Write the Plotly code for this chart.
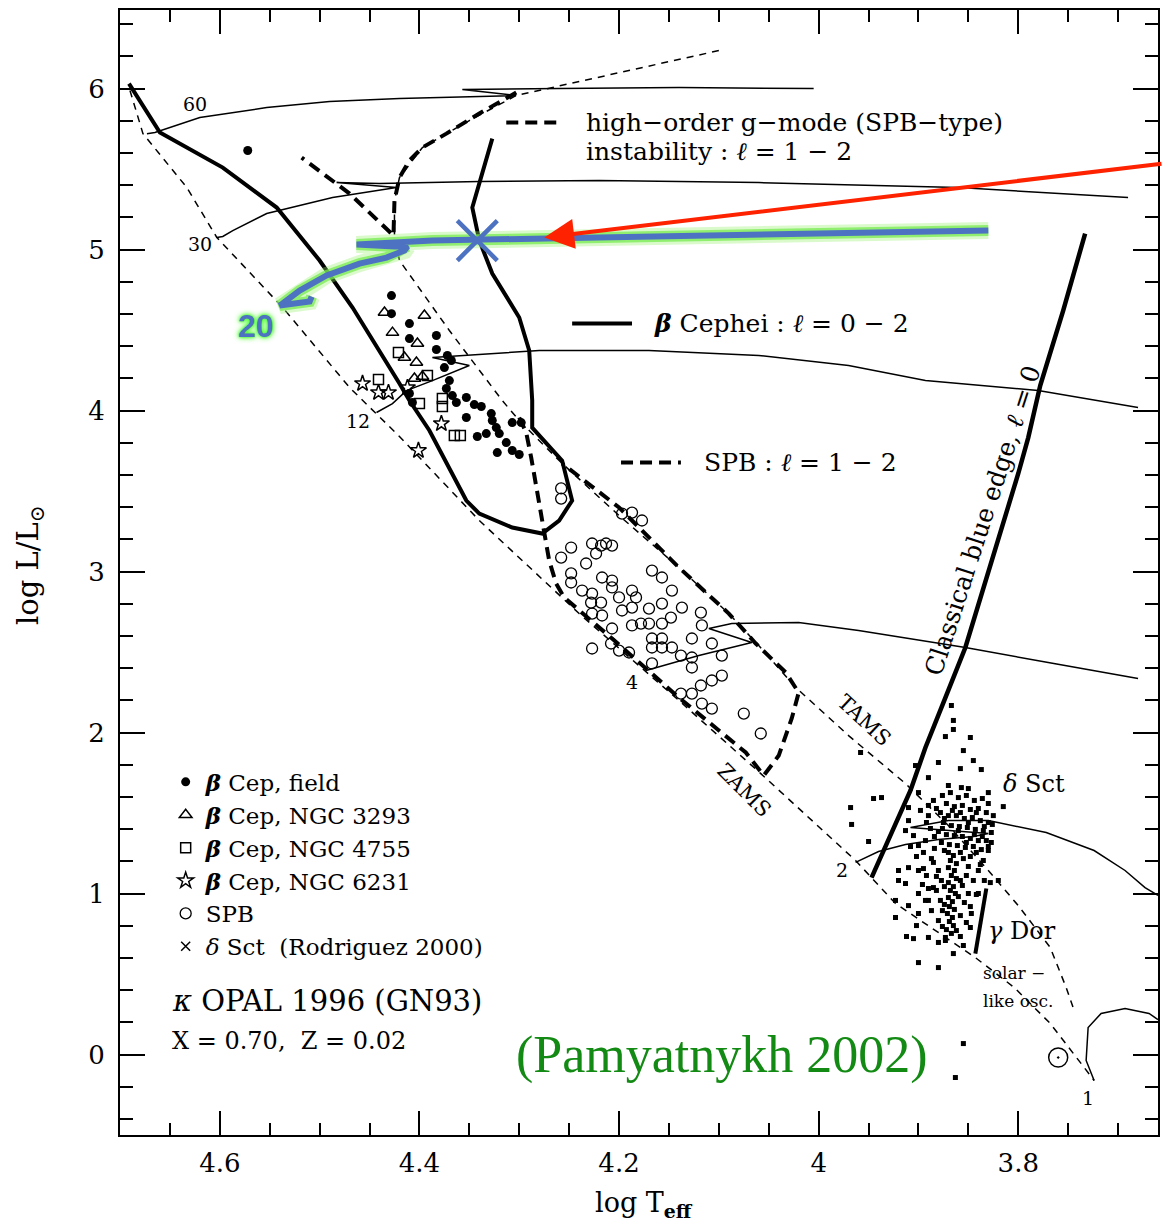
import plotly.graph_objects as go

# ---------------- model lines (log Teff, log L/Lsun) ----------------
ZAMS_T = [4.690, 4.677, 4.633, 4.603, 4.537, 4.470, 4.420, 4.340, 4.240, 4.140, 4.058, 3.963, 3.923, 3.843, 3.804, 3.768, 3.724]
ZAMS_L = [5.988, 5.720, 5.385, 5.075, 4.640, 4.143, 3.839, 3.317, 2.739, 2.199, 1.745, 1.205, 0.938, 0.602, 0.416, 0.193, -0.161]

TAMS_T = [4.100, 4.267, 4.303, 4.350, 4.397, 4.420, 4.425, 4.425, 4.420, 4.370, 4.317, 4.300, 4.257, 4.200,
          4.140, 4.090, 4.060, 4.023, 3.970, 3.913, 3.870, 3.830, 3.800, 3.768, 3.752, 3.744]
TAMS_L = [6.236, 6.006, 5.957, 5.801, 5.634, 5.447, 5.304, 5.087, 4.932, 4.497, 4.062, 3.938, 3.671, 3.348,
          3.025, 2.739, 2.540, 2.280, 1.981, 1.683, 1.422, 1.143, 0.925, 0.665, 0.416, 0.273]

# evolutionary tracks, labelled by mass
M60_T = [4.673, 4.665, 4.620, 4.553, 4.490, 4.420, 4.303, 4.357, 4.260, 4.140, 4.005]
M60_L = [5.720, 5.727, 5.820, 5.882, 5.919, 5.938, 5.957, 5.994, 6.000, 6.006, 6.000]
M30_T = [4.603, 4.597, 4.587, 4.553, 4.487, 4.423, 4.483, 4.440, 4.340, 4.220, 4.060, 3.860, 3.690]
M30_L = [5.075, 5.081, 5.118, 5.224, 5.323, 5.385, 5.416, 5.410, 5.422, 5.429, 5.416, 5.385, 5.323]
M12_T = [4.443, 4.427, 4.413, 4.387, 4.350, 4.387, 4.280, 4.170, 4.060, 3.970, 3.893, 3.780, 3.680]
M12_L = [3.988, 4.043, 4.124, 4.186, 4.280, 4.329, 4.373, 4.373, 4.342, 4.280, 4.186, 4.124, 4.019]
M4_T = [4.173, 4.120, 4.067, 4.110, 4.087, 4.020, 3.960, 3.853, 3.770, 3.680]
M4_L = [2.385, 2.478, 2.559, 2.646, 2.677, 2.683, 2.634, 2.528, 2.435, 2.335]
M2_T = [3.963, 3.940, 3.913, 3.880, 3.845, 3.830, 3.908, 3.870, 3.830, 3.772, 3.724, 3.693, 3.673, 3.660]
M2_L = [1.193, 1.261, 1.304, 1.335, 1.354, 1.373, 1.410, 1.453, 1.453, 1.379, 1.267, 1.143, 1.037, 0.988]
M1_T = [3.724, 3.732, 3.730, 3.717, 3.693, 3.669, 3.660]
M1_L = [-0.161, -0.037, 0.168, 0.255, 0.286, 0.255, 0.217]

# instability domains
BCEP_T = [4.691, 4.660, 4.597, 4.543, 4.500, 4.467, 4.420, 4.410, 4.390, 4.373, 4.353, 4.340, 4.307,
          4.277, 4.260, 4.247, 4.257, 4.287, 4.287, 4.290, 4.300, 4.327, 4.340, 4.347, 4.327]
BCEP_L = [6.031, 5.727, 5.509, 5.261, 4.932, 4.640, 4.168, 4.062, 3.876, 3.671, 3.441, 3.360, 3.273,
          3.236, 3.317, 3.441, 3.689, 3.894, 4.062, 4.373, 4.578, 4.851, 5.056, 5.261, 5.689]
GMODE_T = [4.303, 4.340, 4.373, 4.397, 4.410, 4.420, 4.425, 4.426, 4.470, 4.518]
GMODE_L = [5.975, 5.845, 5.720, 5.634, 5.553, 5.447, 5.304, 5.087, 5.348, 5.571]
SPB_T = [4.300, 4.293, 4.288, 4.284, 4.280, 4.275, 4.270, 4.263, 4.255, 4.207, 4.140, 4.073, 4.055,
         4.040, 4.027, 4.020, 4.033, 4.063, 4.090, 4.140, 4.200, 4.257]
SPB_L = [3.957, 3.863, 3.708, 3.565, 3.422, 3.236, 3.068, 2.925, 2.839, 2.584, 2.217, 1.876, 1.733,
         1.857, 2.087, 2.248, 2.373, 2.553, 2.739, 3.025, 3.398, 3.671]
BLUE_EDGE_T = [3.733, 3.755, 3.778, 3.790, 3.800, 3.827, 3.853, 3.873, 3.893, 3.908, 3.930, 3.947]
BLUE_EDGE_L = [5.099, 4.621, 4.155, 3.832, 3.609, 3.050, 2.528, 2.217, 1.907, 1.640, 1.329, 1.099]
GDOR_T = [3.832, 3.843]
GDOR_L = [1.031, 0.627]

# ---------------- observed stars ----------------
FIELD_T = [4.572, 4.428, 4.428, 4.410, 4.383, 4.410, 4.383, 4.372, 4.368, 4.375, 4.370, 4.373, 4.367, 4.353,
           4.363, 4.345, 4.338, 4.353, 4.328, 4.327, 4.323, 4.320, 4.333, 4.342, 4.307, 4.298, 4.313, 4.322,
           4.307, 4.300, 4.410, 4.407]
FIELD_L = [5.615, 4.714, 4.602, 4.540, 4.466, 4.447, 4.379, 4.342, 4.311, 4.267, 4.186, 4.137, 4.093, 4.081,
           4.050, 4.037, 4.025, 3.957, 3.981, 3.938, 3.894, 3.857, 3.857, 3.839, 3.925, 3.925, 3.801, 3.739,
           3.752, 3.727, 4.106, 4.050]
N3293_T = [4.435, 4.395, 4.427, 4.402, 4.415, 4.403, 4.405, 4.397]
N3293_L = [4.609, 4.590, 4.484, 4.416, 4.329, 4.298, 4.199, 4.211]
N4755_T = [4.421, 4.441, 4.392, 4.400, 4.377, 4.377, 4.365, 4.359]
N4755_L = [4.360, 4.193, 4.217, 4.043, 4.075, 4.025, 3.845, 3.845]
N6231_T = [4.457, 4.441, 4.431, 4.412, 4.378, 4.401]
N6231_L = [4.168, 4.112, 4.112, 4.143, 3.919, 3.752]
SPB_STAR_T = [4.258, 4.258, 4.197, 4.187, 4.177, 4.248, 4.258, 4.227, 4.218, 4.213, 4.207, 4.223, 4.233, 4.248,
              4.248, 4.217, 4.207, 4.207, 4.237, 4.227, 4.228, 4.218, 4.200, 4.187, 4.183, 4.167, 4.157, 4.147,
              4.197, 4.187, 4.170, 4.157, 4.137, 4.118, 4.227, 4.217, 4.178, 4.170, 4.157, 4.148, 4.207, 4.187,
              4.167, 4.157, 4.127, 4.117, 4.227, 4.208, 4.200, 4.190, 4.167, 4.157, 4.147, 4.138, 4.127, 4.107,
              4.097, 4.167, 4.127, 4.138, 4.127, 4.118, 4.107, 4.097, 4.117, 4.107, 4.075, 4.058]
SPB_STAR_L = [3.516, 3.453, 3.360, 3.366, 3.317, 3.149, 3.087, 3.174, 3.161, 3.174, 3.161, 3.112, 3.050, 2.988,
              2.932, 2.963, 2.944, 2.901, 2.882, 2.863, 2.807, 2.807, 2.839, 2.882, 2.839, 3.006, 2.963, 2.882,
              2.758, 2.776, 2.770, 2.801, 2.776, 2.745, 2.739, 2.727, 2.677, 2.677, 2.677, 2.714, 2.646, 2.665,
              2.584, 2.584, 2.584, 2.665, 2.522, 2.553, 2.509, 2.497, 2.528, 2.528, 2.528, 2.478, 2.466, 2.553,
              2.478, 2.429, 2.404, 2.242, 2.242, 2.292, 2.323, 2.354, 2.180, 2.149, 2.118, 1.994]
DSCT_T = [3.867, 3.865, 3.865, 3.873, 3.848, 3.855, 3.958, 3.903, 3.880, 3.890, 3.845, 3.858, 3.837, 3.870,
          3.857, 3.850, 3.830, 3.900, 3.945, 3.937, 3.968, 3.890, 3.815, 3.967, 3.950, 3.910, 3.910, 3.913,
          3.827, 3.920, 3.910, 3.900, 3.920, 3.913, 3.900, 3.923, 3.910, 3.900, 3.923, 3.902, 3.912, 3.905,
          3.890, 3.880, 3.873, 3.865, 3.855, 3.900, 3.880, 3.828, 3.820, 3.840, 3.847, 3.848, 3.893, 3.887,
          3.885, 3.855, 3.863,
          3.876, 3.868, 3.860, 3.852, 3.844, 3.836, 3.830, 3.872, 3.864, 3.856, 3.848, 3.840, 3.832, 3.825,
          3.878, 3.870, 3.862, 3.854, 3.846, 3.838, 3.830, 3.875, 3.867, 3.859, 3.851, 3.843, 3.835, 3.827,
          3.880, 3.872, 3.864, 3.856, 3.848, 3.840, 3.832, 3.877, 3.869, 3.861, 3.853, 3.845, 3.837, 3.885,
          3.890, 3.888, 3.893, 3.884, 3.895, 3.887, 3.900, 3.905,
          3.870, 3.865, 3.868, 3.862, 3.870, 3.864, 3.867, 3.862, 3.870, 3.865, 3.868, 3.863, 3.870, 3.866,
          3.869, 3.864, 3.871, 3.866, 3.869, 3.865, 3.872, 3.867, 3.873,
          3.885, 3.880, 3.877, 3.882, 3.878, 3.855, 3.850, 3.852, 3.845, 3.856, 3.850, 3.854, 3.858, 3.876,
          3.880, 3.852, 3.835, 3.840, 3.842, 3.830, 3.892, 3.890, 3.895,
          3.882, 3.874, 3.866, 3.858, 3.850, 3.842, 3.834, 3.826, 3.884, 3.876, 3.860, 3.852, 3.844, 3.836,
          3.830, 3.874, 3.858, 3.848, 3.838, 3.882, 3.874, 3.858, 3.860, 3.874, 3.862, 3.876, 3.858, 3.848,
          3.842, 3.834, 3.890, 3.896, 3.902, 3.908, 3.892, 3.898]
DSCT_L = [2.168, 2.075, 2.019, 1.975, 1.969, 1.888, 1.876, 1.795, 1.814, 1.720, 1.826, 1.776, 1.770, 1.671,
          1.658, 1.652, 1.627, 1.627, 1.590, 1.596, 1.534, 1.547, 1.540, 1.429, 1.323, 1.534, 1.453, 1.391,
          1.317, 1.143, 1.161, 1.143, 1.081, 1.062, 1.000, 0.957, 0.925, 0.876, 0.851, 0.801, 0.733, 0.720,
          0.727, 0.696, 0.708, 0.627, 0.677, 0.571, 0.540, 1.068, 1.081, 1.000, 0.876, 0.789, 0.957, 0.894,
          1.037, 0.068, -0.143,
          1.609, 1.627, 1.596, 1.609, 1.578, 1.590, 1.559, 1.559, 1.540, 1.547, 1.522, 1.528, 1.503, 1.484,
          1.503, 1.484, 1.484, 1.466, 1.472, 1.453, 1.441, 1.441, 1.422, 1.416, 1.410, 1.398, 1.391, 1.379,
          1.385, 1.366, 1.360, 1.354, 1.342, 1.329, 1.329, 1.317, 1.304, 1.298, 1.286, 1.292, 1.273, 1.578,
          1.484, 1.404, 1.329, 1.280, 1.255, 1.217, 1.298, 1.360,
          1.255, 1.236, 1.205, 1.186, 1.161, 1.143, 1.112, 1.093, 1.068, 1.043, 1.019, 1.000, 0.975, 0.950,
          0.919, 0.901, 0.876, 0.851, 0.826, 0.801, 0.776, 0.752, 0.727,
          1.193, 1.143, 1.081, 1.019, 0.957, 1.217, 1.168, 1.112, 1.081, 1.050, 1.000, 0.944, 0.863, 0.894,
          0.832, 0.820, 1.205, 1.143, 1.255, 1.267, 1.112, 1.031, 1.155,
          1.528, 1.466, 1.516, 1.503, 1.441, 1.503, 1.416, 1.429, 1.354, 1.404, 1.391, 1.317, 1.366, 1.354,
          1.292, 1.267, 1.255, 1.230, 1.180, 1.106, 1.043, 1.081, 0.981, 0.932, 0.770, 0.795, 0.733, 0.919,
          0.994, 1.081, 0.957, 1.056, 1.230, 1.292, 1.441, 1.516]
SUN_T = [3.760]
SUN_L = [-0.019]

# highlighted 20 Msun track and the marked model on it
M20_T = [4.508, 4.510, 4.540, 4.520, 4.493, 4.460, 4.433, 4.415, 4.412, 4.425, 4.463, 4.387, 4.220, 4.020, 3.830]
M20_L = [4.708, 4.677, 4.652, 4.745, 4.839, 4.913, 4.950, 4.994, 5.019, 5.019, 5.031, 5.056, 5.075, 5.099, 5.118]
MODEL_T = [4.342]
MODEL_L = [5.056]
ARROW_TIP = (4.275, 5.075)
ARROW_TAIL = (3.655, 5.534)

# key samples for the line styles: (T start, T end, log L, style)
KEY_LINES = [
    (4.313, 4.257, 5.789, "dash"),
    (4.247, 4.187, 4.540, "solid"),
    (4.198, 4.138, 3.677, "dash"),
]

SERIF = "DejaVu Serif"
BLUE = "#4e72c2"

fig = go.Figure()


def line(x, y, width, dash="solid", color="black"):
    fig.add_trace(go.Scatter(x=x, y=y, mode="lines", showlegend=False, hoverinfo="skip",
                             line=dict(color=color, width=width, dash=dash)))


THIN_DASH = "7px,6px"
THICK_DASH = "12px,7px"

line(ZAMS_T, ZAMS_L, 1.5, THIN_DASH)
line(TAMS_T, TAMS_L, 1.5, THIN_DASH)
for tx, ty in [(M60_T, M60_L), (M30_T, M30_L), (M12_T, M12_L), (M4_T, M4_L), (M2_T, M2_L), (M1_T, M1_L)]:
    line(tx, ty, 1.5)
line(BCEP_T, BCEP_L, 4)
line(GMODE_T, GMODE_L, 4, THICK_DASH)
line(SPB_T, SPB_L, 4, THICK_DASH)
line(BLUE_EDGE_T, BLUE_EDGE_L, 4.5)
line(GDOR_T, GDOR_L, 4)

for t0, t1, lum, style in KEY_LINES:
    line([t0, t1], [lum, lum], 4, THICK_DASH if style == "dash" else "solid")


def stars(x, y, name, symbol, size, lw=1.5, legend=True):
    fig.add_trace(go.Scatter(x=x, y=y, mode="markers", name=name, showlegend=legend,
                             marker=dict(symbol=symbol, size=size, color="black",
                                         line=dict(color="black", width=lw))))


stars(FIELD_T, FIELD_L, "<b><i>β</i></b> Cep, field", "circle", 9, 0)
stars(N3293_T, N3293_L, "<b><i>β</i></b> Cep, NGC 3293", "triangle-up-open", 11)
stars(N4755_T, N4755_L, "<b><i>β</i></b> Cep, NGC 4755", "square-open", 10)
stars(N6231_T, N6231_L, "<b><i>β</i></b> Cep, NGC 6231", "star-open", 12)
stars(SPB_STAR_T, SPB_STAR_L, "SPB", "circle-open", 11, 1.3)
stars(DSCT_T, DSCT_L, "dsct", "square", 5, 0, legend=False)
fig.add_trace(go.Scatter(x=[None], y=[None], mode="markers", name="<i>δ</i> Sct\u00a0\u00a0(Rodriguez 2000)",
                         marker=dict(symbol="x-thin-open", size=9, color="black", line=dict(width=1.5, color="black"))))
fig.add_trace(go.Scatter(x=SUN_T, y=SUN_L, mode="markers", showlegend=False,
                         marker=dict(symbol="circle-open-dot", size=19, color="black", line=dict(width=1.5))))

# highlighted track with a soft green halo
line(M20_T, M20_L, 17, color="rgba(150,240,110,0.35)")
line(M20_T, M20_L, 11, color="rgba(120,235,80,0.75)")
line(M20_T, M20_L, 6, color=BLUE)
fig.add_trace(go.Scatter(x=MODEL_T, y=MODEL_L, mode="markers", showlegend=False,
                         marker=dict(symbol="x-thin-open", size=40, color=BLUE, line=dict(width=4.5, color=BLUE))))

annotations = []


def label(x, y, text, size=21, angle=0, anchor="left", color="black", family=SERIF, **kw):
    annotations.append(dict(x=x, y=y, xref="x", yref="y", text=text, showarrow=False, textangle=angle,
                            xanchor=anchor, yanchor="middle",
                            font=dict(family=family, size=size, color=color, **kw)))


label(4.235, 5.789, "high−order g−mode (SPB−type)", 25)
label(4.235, 5.609, "instability : <i>ℓ</i> = 1 − 2", 25)
label(4.167, 4.540, "<b><i>β</i></b> Cephei : <i>ℓ</i> = 0 − 2", 25)
label(4.117, 3.677, "SPB : <i>ℓ</i> = 1 − 2", 25)

TRACK_LABELS = [("60", 4.625, 5.907), ("30", 4.620, 5.037), ("12", 4.462, 3.938),
                ("4", 4.187, 2.311), ("2", 3.977, 1.143), ("1", 3.730, -0.273)]
for txt, tx, ty in TRACK_LABELS:
    label(tx, ty, txt, 19, anchor="center")

label(3.955, 2.075, "TAMS", 21, angle=43, anchor="center")
label(4.075, 1.640, "ZAMS", 21, angle=45, anchor="center")
label(3.836, 3.320, "Classical blue edge, <i>ℓ</i> = 0", 25, angle=-72, anchor="center")
label(3.817, 1.683, "<i>δ</i> Sct", 24)
label(3.832, 0.770, "<i>γ</i> Dor", 24)
label(3.837, 0.509, "solar −", 17)
label(3.837, 0.335, "like osc.", 17)
label(4.650, 0.335, "<i>κ</i> OPAL 1996 (GN93)", 29)
label(4.650, 0.087, "X = 0.70,  Z = 0.02", 24)
label(4.305, -0.006, "(Pamyatnykh 2002)", 52, color="#138a13", family="Liberation Serif")
label(4.564, 4.528, "<b>20</b>", 32, anchor="center", color=BLUE, family="Liberation Sans",
      shadow="0px 0px 6px #4dff2e, 0px 0px 4px #4dff2e, 0px 0px 2px #4dff2e")

annotations.append(dict(x=ARROW_TIP[0], y=ARROW_TIP[1], ax=ARROW_TAIL[0], ay=ARROW_TAIL[1],
                        xref="x", yref="y", axref="x", ayref="y", text="", showarrow=True,
                        arrowhead=2, arrowsize=1.5, arrowwidth=4, arrowcolor="#ff2200", standoff=0))

annotations.append(dict(x=0, y=0.5067, xref="paper", yref="paper", xshift=-90, xanchor="center",
                        yanchor="middle", text="log L/L<sub>⊙</sub>",
                        showarrow=False, textangle=-90, font=dict(family=SERIF, size=29)))
annotations.append(dict(x=0.505, y=-0.0615, xref="paper", yref="paper", xanchor="center", yanchor="middle",
                        text="log T<sub><b>eff</b></sub>",
                        showarrow=False, font=dict(family=SERIF, size=27)))

axis_common = dict(showgrid=False, zeroline=False, showline=True, linecolor="black", linewidth=2,
                   mirror="allticks", ticks="inside", tickcolor="black", tickwidth=1.5,
                   tickfont=dict(family=SERIF, size=26, color="black"))

fig.update_layout(
    width=1162, height=1227,
    margin=dict(l=120, r=2, t=10, b=92),
    paper_bgcolor="white", plot_bgcolor="white",
    font=dict(family=SERIF, color="black"),
    annotations=annotations,
    legend=dict(x=0.044, y=0.333, xanchor="left", yanchor="top", bgcolor="rgba(0,0,0,0)",
                font=dict(family=SERIF, size=23, color="black"), itemsizing="trace", itemwidth=30,
                tracegroupgap=0),
    xaxis=dict(range=[4.70, 3.66], tickvals=[4.6, 4.4, 4.2, 4.0, 3.8], ticktext=["4.6", "4.4", "4.2", "4", "3.8"],
               ticklen=24, ticklabelstandoff=4,
               minor=dict(ticks="inside", ticklen=12, tickwidth=1.5, tickcolor="black", tick0=3.8, dtick=0.05,
                          showgrid=False),
               **axis_common),
    yaxis=dict(range=[-0.5, 6.488], tickvals=[0, 1, 2, 3, 4, 5, 6], ticklen=25, ticklabelstandoff=8,
               minor=dict(ticks="inside", ticklen=13, tickwidth=1.5, tickcolor="black", tick0=0, dtick=0.2,
                          showgrid=False),
               **axis_common),
)

fig.write_html("out.html")
